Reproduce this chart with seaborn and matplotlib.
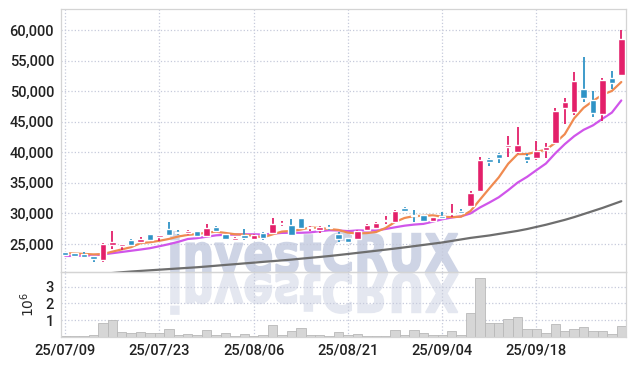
import numpy as np
import pandas as pd
import matplotlib
matplotlib.use("Agg")
import matplotlib.pyplot as plt
import seaborn as sns
from matplotlib.textpath import TextPath
from matplotlib.patches import PathPatch
from matplotlib.transforms import Affine2D
from matplotlib.font_manager import FontProperties
from matplotlib.ticker import FuncFormatter

# daily candles (KRW)
opens = [23650, 23450, 23300, 23100, 22400, 24800, 24750, 25650, 25250, 26700,
         26100, 27500, 26900, 26750, 27100, 26280, 27800, 26600, 25650, 26550,
         25900, 26750, 26750, 28250, 28150, 29200, 27550, 27250, 27800, 26700,
         25950, 25830, 27280, 27670, 28780, 28600, 30900, 29780, 29670, 28720,
         29560, 29950, 30450, 31230, 33700, 38900, 39670, 40870, 40050, 39350,
         39070, 40380, 41580, 47310, 46600, 50410, 48500, 46270, 52100, 52700]
highs = [23750, 23600, 23700, 23100, 25200, 27200, 25000, 25850, 26150, 26700,
         26550, 28600, 27300, 27300, 27200, 28250, 27900, 26700, 26100, 27450,
         26600, 26900, 29300, 28750, 29050, 29200, 28000, 27950, 28100, 26900,
         26000, 27330, 28280, 28550, 29560, 30500, 31060, 30620, 29800, 29500,
         30170, 31500, 30780, 33730, 39200, 39070, 39950, 42730, 44090, 39730,
         41800, 41580, 47250, 48890, 53140, 55540, 50090, 52160, 53360, 60070]
lows = [23100, 22800, 22800, 22000, 22100, 24250, 24100, 24700, 25150, 25500,
        25500, 26300, 26400, 26400, 26300, 26200, 27100, 25600, 25500, 25650,
        25800, 25650, 26700, 27900, 26250, 27550, 27100, 26800, 27250, 25300,
        25300, 25650, 27200, 27500, 28280, 28500, 30280, 28610, 28600, 28600,
        29060, 29500, 29840, 31060, 33600, 37820, 38250, 39180, 39730, 38200,
        38800, 39070, 41470, 44690, 46050, 48230, 45780, 45070, 50410, 52430]
closes = [23250, 23100, 22950, 22500, 24950, 25250, 24950, 24800, 25800, 25650,
          26450, 26450, 26800, 27100, 26350, 27600, 27200, 25800, 26050, 26050,
          26500, 26050, 28250, 28350, 26550, 27600, 27800, 27800, 27550, 25750,
          25400, 27170, 28060, 28500, 29000, 30340, 30400, 29610, 28720, 29390,
          29230, 30060, 30000, 33280, 38700, 38470, 39070, 41150, 41150, 38750,
          40270, 40820, 46820, 48180, 51720, 48890, 46430, 51890, 51290, 58590]

# moving averages
ma5 = [23500, 23450, 23380, 23300, 23350, 23750, 24120, 24490, 25150, 25290,
       25530, 25830, 26230, 26490, 26630, 26860, 27010, 26810, 26600, 26540,
       26320, 26090, 26580, 27040, 27140, 27360, 27710, 27620, 27460, 27300,
       26860, 26734, 26786, 26976, 27626, 28614, 29260, 29570, 29614, 29692,
       29470, 29402, 29480, 30392, 32254, 34102, 35904, 38134, 39708, 39718,
       40078, 40428, 41562, 42968, 45562, 47286, 48408, 49422, 50044, 51504]
ma10 = [23050, 23050, 23100, 23150, 23300, 23500, 23700, 23900, 24100, 24320,
        24640, 24975, 25360, 25820, 25960, 26195, 26420, 26520, 26545, 26585,
        26590, 26550, 26695, 26820, 26840, 26840, 26900, 27100, 27250, 27220,
        27110, 27222, 27203, 27218, 27463, 27737, 27997, 28178, 28295, 28659,
        29042, 29331, 29525, 30003, 30973, 31786, 32653, 33807, 35050, 35986,
        37090, 38166, 39848, 41338, 42640, 43682, 44418, 45492, 46506, 48490]
ma_long = [19700, 19850, 19950, 20050, 20150, 20250, 20380, 20500, 20600, 20700,
           20800, 20900, 21000, 21100, 21200, 21320, 21450, 21580, 21700, 21830,
           21950, 22080, 22200, 22320, 22450, 22600, 22740, 22880, 23030, 23200,
           23370, 23550, 23720, 23900, 24080, 24260, 24450, 24650, 24850, 25050,
           25250, 25500, 25750, 26000, 26200, 26400, 26650, 26900, 27150, 27450,
           27800, 28150, 28550, 28950, 29400, 29900, 30400, 30900, 31450, 32000]

# volume in millions of shares
volume = [0.04, 0.04, 0.05, 0.12, 0.83, 1.00, 0.32, 0.24, 0.30, 0.24,
          0.24, 0.47, 0.12, 0.18, 0.10, 0.41, 0.12, 0.24, 0.06, 0.18,
          0.06, 0.12, 0.71, 0.12, 0.36, 0.53, 0.12, 0.10, 0.04, 0.30,
          0.12, 0.16, 0.04, 0.06, 0.08, 0.39, 0.12, 0.39, 0.24, 0.10,
          0.10, 0.36, 0.10, 1.42, 3.49, 0.85, 0.85, 1.07, 1.18, 0.49,
          0.47, 0.24, 0.79, 0.37, 0.49, 0.59, 0.37, 0.37, 0.20, 0.65]

tick_labels = ["25/07/09", "25/07/23", "25/08/06", "25/08/21", "25/09/04", "25/09/18"]

df = pd.DataFrame({"open": opens, "high": highs, "low": lows, "close": closes,
                   "ma5": ma5, "ma10": ma10, "ma_long": ma_long, "volume": volume})
df["idx"] = np.arange(len(df))

sns.set_style("white")
plt.rcParams["font.family"] = ["Roboto", "DejaVu Sans"]

UP = "#e3206a"
DOWN = "#2f93c6"
GRID = "#c6cadb"
EDGE = "#d4d4d4"

fig = plt.figure(figsize=(6.34, 3.66), dpi=100)
ax = fig.add_axes([0.0962, 0.2568, 0.8912, 0.7186])
axv = fig.add_axes([0.0962, 0.0792, 0.8912, 0.1776], sharex=ax)
for a in (ax, axv):
    a.set_facecolor("none")

# watermark and its reflection, in pixel coords
tp = TextPath((0, 0), "investCRUX", size=50,
              prop=FontProperties(family="DejaVu Sans", weight="bold"))
ext = tp.get_extents()
sx = (458 - 171) / ext.width
sy = (134 - 93) / ext.height
tr = Affine2D().translate(-ext.x0, -ext.y0).scale(sx, sy).translate(171, 93)
tr2 = Affine2D().translate(-ext.x0, -ext.y0).scale(sx, -sy).translate(171, 93)
fig.add_artist(PathPatch(tp, transform=tr, fc="#ced4e5", ec="#ced4e5", lw=1.2, zorder=-5))
fig.add_artist(PathPatch(tp, transform=tr2, fc="#e4e7f0", ec="#e4e7f0", lw=1.2, zorder=-5))

sns.lineplot(data=df, x="idx", y="ma_long", ax=ax, color="#6e6e6e", lw=1.6, zorder=3)
sns.lineplot(data=df, x="idx", y="ma10", ax=ax, color="#d055ea", lw=1.6, zorder=3)
sns.lineplot(data=df, x="idx", y="ma5", ax=ax, color="#f08a50", lw=1.6, zorder=3)

# candles on top of the averages
colors = np.where(df["close"] >= df["open"], UP, DOWN)
ax.vlines(df["idx"], df["low"], df["high"], colors=colors, lw=1.3, zorder=5)
body_lo = np.minimum(df["open"], df["close"])
body_h = np.maximum((df["close"] - df["open"]).abs(), 130)
ax.bar(df["idx"], body_h, bottom=body_lo, width=0.68, color=colors, zorder=5)

ax.set_xlim(-0.45, 59.5)
ax.set_ylim(20420, 63450)
ax.set_yticks(range(25000, 60001, 5000))
ax.yaxis.set_major_formatter(FuncFormatter(lambda v, p: f"{v:,.0f}"))
ax.set_xlabel("")
ax.set_ylabel("")
ax.tick_params(axis="x", labelbottom=False, length=0)

# volume
axv.bar(df["idx"], df["volume"], width=1.0, color="#d6d6d6", edgecolor="#b8b8b8",
        lw=0.6, zorder=2)
axv.set_ylim(0, 3.87)
axv.set_yticks([1, 2, 3])
axv.set_ylabel(r"$10^{6}$", fontsize=10, family="DejaVu Serif", labelpad=6)
axv.set_xticks(df["idx"][::10])
axv.set_xticklabels(tick_labels)

for a in (ax, axv):
    a.grid(True, ls=":", color=GRID, lw=0.9, zorder=0)
    a.set_axisbelow(True)
    a.tick_params(length=0, labelsize=10.5, colors="#222222", pad=5)
    for lab in a.get_xticklabels() + a.get_yticklabels():
        lab.set_fontweight("medium")
    for s in a.spines.values():
        s.set_color(EDGE)
        s.set_linewidth(0.9)

fig.savefig("out.png", dpi=100)
